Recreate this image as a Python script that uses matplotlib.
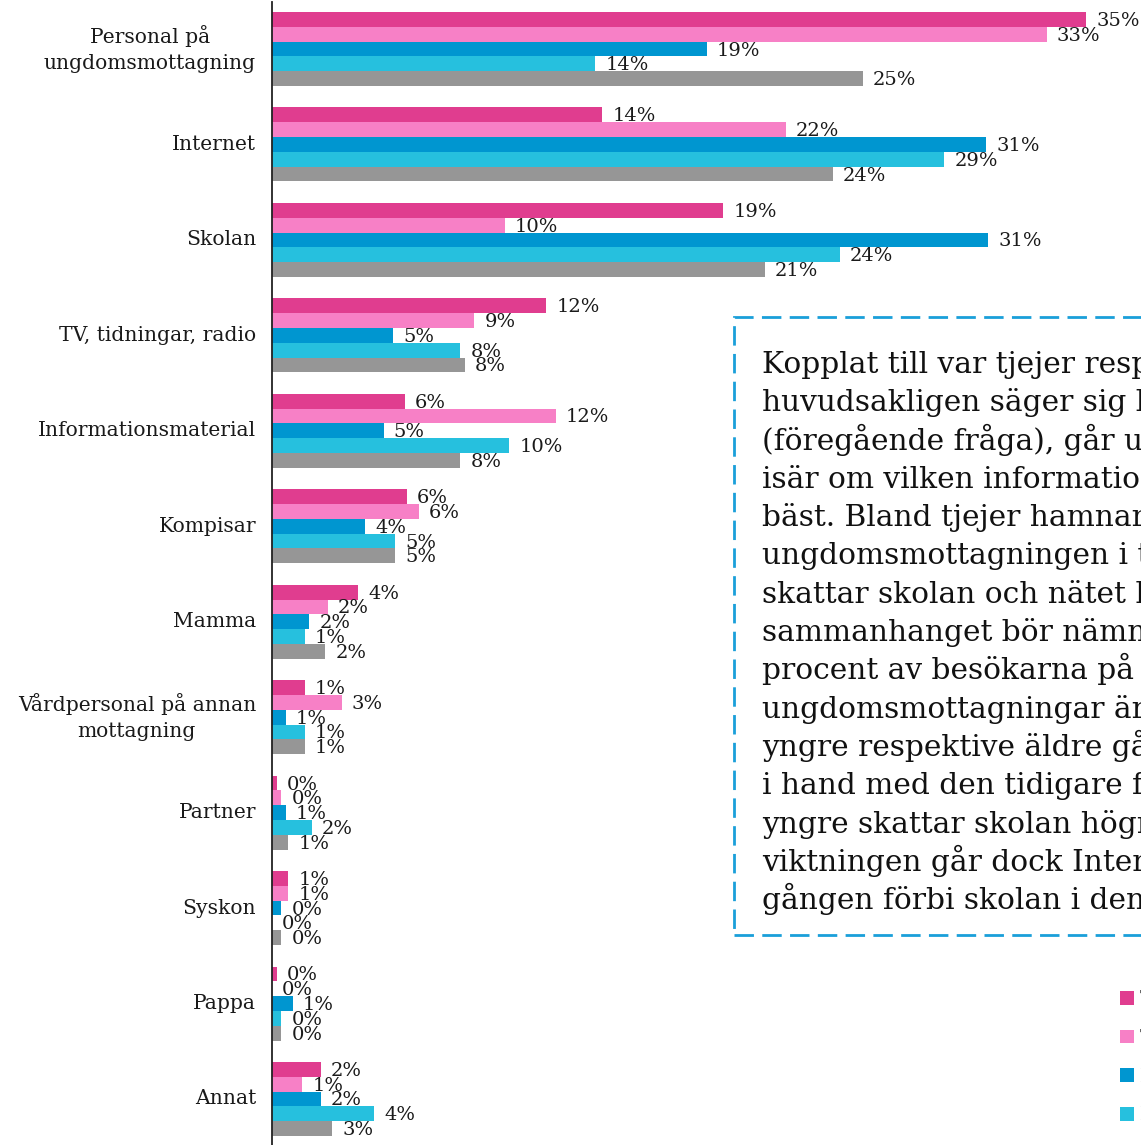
import matplotlib.pyplot as plt
import numpy as np
from matplotlib.patches import Rectangle, Patch

# Information sources, top to bottom
categories = [
    "Personal på\nungdomsmottagning",
    "Internet",
    "Skolan",
    "TV, tidningar, radio",
    "Informationsmaterial",
    "Kompisar",
    "Mamma",
    "Vårdpersonal på annan\nmottagning",
    "Partner",
    "Syskon",
    "Pappa",
    "Annat",
]

series_names = ["Tjejer yngre", "Tjejer äldre", "Killar yngre", "Killar äldre", "Totalt (viktat)"]
series_colors = ["#e03d8f", "#f780c6", "#0096d0", "#26c0de", "#969696"]

# Share (%) per source for each group
tjejer_yngre = [35.0, 14.2, 19.4, 11.8, 5.7, 5.8, 3.7, 1.4, 0.2, 0.7, 0.2, 2.1]
tjejer_aldre = [33.3, 22.1, 10.0, 8.7, 12.2, 6.3, 2.4, 3.0, 0.4, 0.7, 0.0, 1.3]
killar_yngre = [18.7, 30.7, 30.8, 5.2, 4.8, 4.0, 1.6, 0.6, 0.6, 0.4, 0.9, 2.1]
killar_aldre = [13.9, 28.9, 24.4, 8.1, 10.2, 5.3, 1.4, 1.4, 1.7, 0.0, 0.4, 4.4]
totalt = [25.4, 24.1, 21.2, 8.3, 8.1, 5.3, 2.3, 1.4, 0.7, 0.4, 0.4, 2.6]

series = [tjejer_yngre, tjejer_aldre, killar_yngre, killar_aldre, totalt]

comment_lines = [
    "Kopplat till var tjejer respektive killar",
    "huvudsakligen säger sig lära sig om sex",
    "(föregående fråga), går uppfattningarna",
    "isär om vilken informationskälla som är",
    "bäst. Bland tjejer hamnar personal på",
    "ungdomsmottagningen i topp, medan killar",
    "skattar skolan och nätet högst. I det",
    "sammanhanget bör nämnas att cirka 70",
    "procent av besökarna på landets",
    "ungdomsmottagningar är tjejer. Svaren från",
    "yngre respektive äldre går hand",
    "i hand med den tidigare frågan;",
    "yngre skattar skolan högre. Med",
    "viktningen går dock Internet den här",
    "gången förbi skolan i den totala bilden.",
]

FONT = "DejaVu Serif"
W, H = 1141, 1145
fig = plt.figure(figsize=(W / 100, H / 100), dpi=100)

# axes run off the right edge of the canvas
ax_left = 272
px_per_pct = 23.26
xmax = 40
group_pitch = 95.45
first_center = 49
ax = fig.add_axes([ax_left / W, 0, xmax * px_per_pct / W, 1 - 2 / H])
ax.set_xlim(0, xmax)
ax.set_ylim((H - first_center) / group_pitch, -(first_center - 2) / group_pitch)

n = len(series)
bar_h = 14.8 / group_pitch
y = np.arange(len(categories))
label_dx = 10 / px_per_pct
label_dy = 1.5 / group_pitch

for j, (vals, color) in enumerate(zip(series, series_colors)):
    ypos = y + (j - (n - 1) / 2) * bar_h
    ax.barh(ypos, vals, height=bar_h, color=color, linewidth=0)
    for yy, v in zip(ypos, vals):
        ax.text(v + label_dx, yy + label_dy, f"{v:.0f}%", va="center", ha="left",
                fontsize=14, family=FONT, color="#1a1a1a")

ax.set_yticks(y)
ax.set_yticklabels(categories, fontsize=14.6, family=FONT, linespacing=1.5)
for lbl in ax.get_yticklabels():
    lbl.set_multialignment("center")
    lbl.set_verticalalignment("center")
ax.tick_params(axis="y", length=0, pad=11.5, labelcolor="#1a1a1a")
ax.set_xticks([])
for side in ["top", "right", "bottom"]:
    ax.spines[side].set_visible(False)
ax.spines["left"].set_color("#222222")
ax.spines["left"].set_linewidth(1.3)

# dashed comment box
box = Rectangle((734 / W, 1 - 935 / H), 500 / W, (935 - 317) / H,
                transform=fig.transFigure, fill=False, edgecolor="#1a9fd9",
                linewidth=2.0, linestyle=(0, (7, 3)), clip_on=False)
fig.add_artist(box)
for i, line in enumerate(comment_lines):
    fig.text(762 / W, 1 - (373 + i * 38.3) / H, line, fontsize=21.3,
             family=FONT, va="baseline", ha="left", color="#111111")

handles = [Patch(facecolor=c, edgecolor="none") for c in series_colors]
fig.legend(handles, series_names, loc="upper left",
           bbox_to_anchor=(1120 / W, 1 - 990 / H), frameon=False,
           prop={"family": FONT, "size": 13},
           handlelength=0.78, handleheight=0.78, labelspacing=1.15,
           borderpad=0, borderaxespad=0, handletextpad=0.3, labelcolor="#555555")

fig.savefig("out.png", dpi=100)
